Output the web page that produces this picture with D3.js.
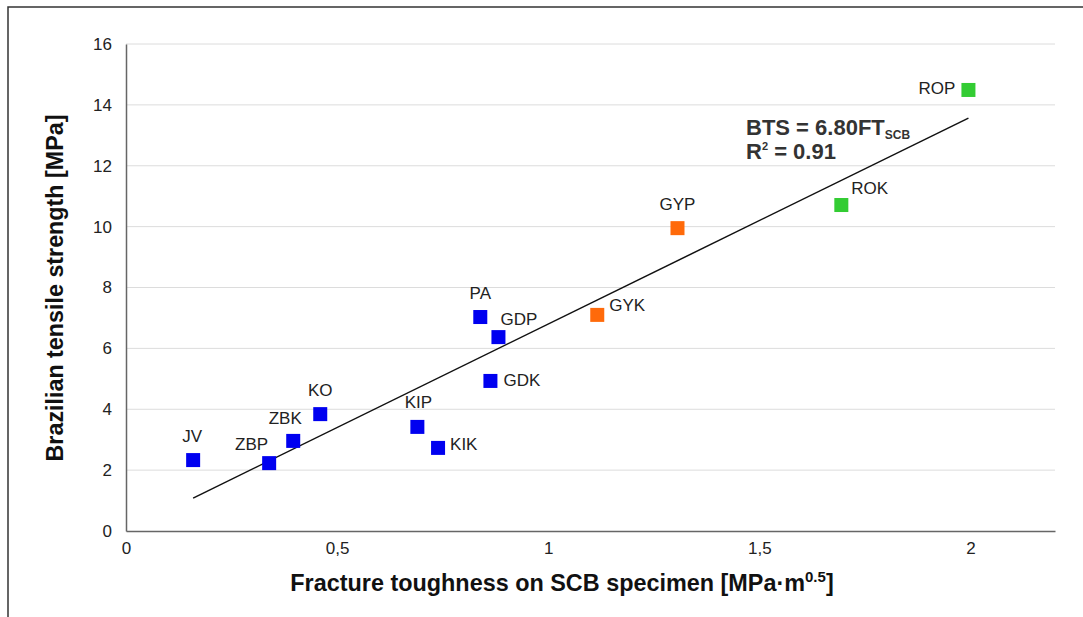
<!DOCTYPE html>
<html><head><meta charset="utf-8">
<script src="https://cdn.jsdelivr.net/npm/d3@7"></script>
<style>
body{margin:0;background:#fff;}
svg{display:block;font-family:"Liberation Sans",Arial,sans-serif;}
</style></head>
<body><svg id="c" width="1083" height="617"></svg>
<script>
const names = ["JV","ZBP","ZBK","KO","KIP","KIK","PA","GDP","GDK","GYK","GYP","ROK","ROP"];
const ftValues = [0.159,0.339,0.396,0.46,0.69,0.739,0.839,0.882,0.863,1.116,1.306,1.694,1.995];
const btsValues = [2.33,2.23,2.96,3.84,3.42,2.73,7.03,6.37,4.93,7.10,9.95,10.71,14.49];
const groups = ["a","a","a","a","a","a","a","a","a","b","b","c","c"];
const xTicks = [0,0.5,1,1.5,2];
const xTickLabels = ["0","0,5","1","1,5","2"];
const yTicks = [0,2,4,6,8,10,12,14,16];
const slope = 6.80;
const trendRange = [0.159,1.995];

// label placement (presentation only): [dx, dy, anchor]
const labelPlace = {
  JV:[-1,-23,"middle"], ZBP:[-1,-18,"end"], ZBK:[-8,-21,"middle"], KO:[0,-23,"middle"],
  KIP:[1,-23,"middle"], KIK:[12,-2,"start"], PA:[0,-23,"middle"], GDP:[2,-17,"start"],
  GDK:[13,1,"start"], GYK:[12,-8,"start"], GYP:[0,-23,"middle"], ROK:[10,-15,"start"],
  ROP:[-13,0,"end"]
};

const colors = {a:"#0000f0", b:"#ff6a0a", c:"#33cc33"};
const svg = d3.select("#c");
const m = {l:126, r:1055, t:44, b:531};
const x = d3.scaleLinear().domain([0,2.2]).range([m.l,m.r]);
const y = d3.scaleLinear().domain([0,16]).range([m.b,m.t]);

// frame
svg.append("path").attr("d","M8,617 L8,7 L1083,7").attr("fill","none").attr("stroke","#333").attr("stroke-width",1.5);

// grid
svg.append("g").selectAll("line").data(yTicks.filter(d=>d>0)).join("line")
  .attr("x1",m.l).attr("x2",m.r).attr("y1",d=>y(d)).attr("y2",d=>y(d))
  .attr("stroke","#dcdcdc").attr("stroke-width",1);

// axes
const xAxis = svg.append("g").attr("transform",`translate(0,${m.b})`)
  .call(d3.axisBottom(x).tickValues(xTicks).tickFormat((d,i)=>xTickLabels[i]).tickSize(0).tickPadding(11));
xAxis.select(".domain").attr("stroke","#666").attr("stroke-width",1.5);
xAxis.selectAll("text").attr("font-size",17).attr("fill","#222").attr("font-family","Liberation Sans, Arial, sans-serif");
const yAxis = svg.append("g").attr("transform",`translate(${m.l},0)`)
  .call(d3.axisLeft(y).tickValues(yTicks).tickSize(0).tickPadding(14));
yAxis.select(".domain").attr("stroke","#666").attr("stroke-width",1.5);
yAxis.selectAll("text").attr("font-size",17).attr("fill","#222").attr("font-family","Liberation Sans, Arial, sans-serif");

// trend line
svg.append("line").attr("x1",x(trendRange[0])).attr("y1",y(slope*trendRange[0]))
  .attr("x2",x(trendRange[1])).attr("y2",y(slope*trendRange[1]))
  .attr("stroke","#111").attr("stroke-width",1.5);

// points
const pts = names.map((n,i)=>({n, x:ftValues[i], y:btsValues[i], g:groups[i]}));
const sz = 14;
svg.append("g").selectAll("rect").data(pts).join("rect")
  .attr("x",d=>x(d.x)-sz/2).attr("y",d=>y(d.y)-sz/2).attr("width",sz).attr("height",sz)
  .attr("fill",d=>colors[d.g]);

svg.append("g").selectAll("text").data(pts).join("text")
  .attr("x",d=>x(d.x)+labelPlace[d.n][0])
  .attr("y",d=>y(d.y)+labelPlace[d.n][1])
  .attr("text-anchor",d=>labelPlace[d.n][2])
  .attr("dominant-baseline","middle")
  .attr("font-size",17).attr("fill","#222")
  .text(d=>d.n);

// equation
const eq = svg.append("text").attr("x",746).attr("y",135).attr("font-size",22).attr("font-weight","bold").attr("fill","#333");
eq.append("tspan").text("BTS = 6.80FT");
eq.append("tspan").attr("font-size",12).attr("dy",4).text("SCB");
const r2 = svg.append("text").attr("x",746).attr("y",159).attr("font-size",22).attr("font-weight","bold").attr("fill","#333");
r2.append("tspan").text("R");
r2.append("tspan").attr("font-size",11).attr("dy",-9).text("2");
r2.append("tspan").attr("dy",9).text(" = 0.91");

// axis titles
const xt = svg.append("text").attr("x",562).attr("y",591).attr("text-anchor","middle")
  .attr("font-size",23.4).attr("font-weight","bold").attr("fill","#111");
xt.append("tspan").text("Fracture toughness on SCB specimen [MPa·m");
xt.append("tspan").attr("font-size",15).attr("dy",-9).text("0.5");
xt.append("tspan").attr("dy",9).text("]");
svg.append("text").attr("transform",`translate(63,288) rotate(-90)`).attr("text-anchor","middle")
  .attr("font-size",23.3).attr("font-weight","bold").attr("fill","#111")
  .text("Brazilian tensile strength [MPa]");
</script></body></html>
